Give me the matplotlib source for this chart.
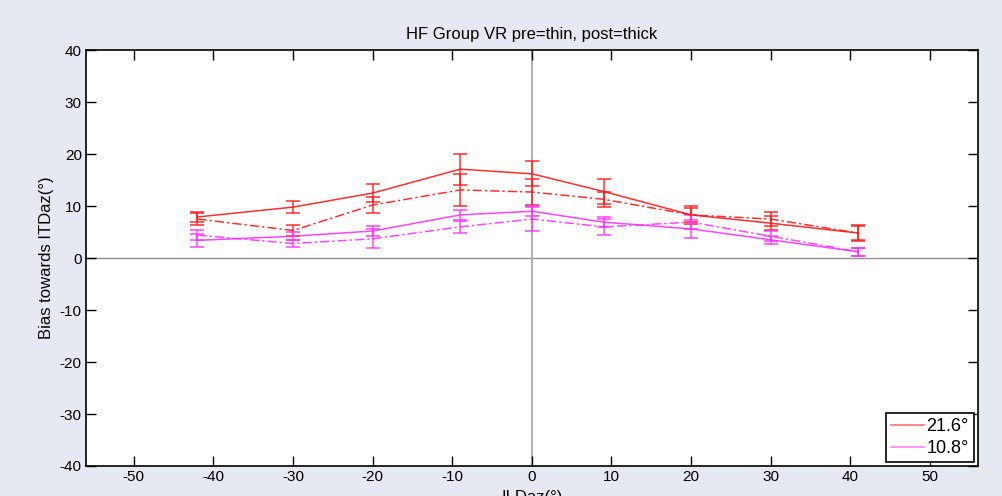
import matplotlib
matplotlib.use('Agg')
import matplotlib.pyplot as plt
from matplotlib.lines import Line2D

plt.rcParams['font.family'] = ['Liberation Sans', 'DejaVu Sans']
plt.rcParams['axes.unicode_minus'] = False

# ILD azimuth positions
ild = [-42, -30, -20, -9, 0, 9, 20, 30, 41]

# 21.6 deg, pre (solid) and post (dash-dot)
red_pre = [7.9, 9.8, 12.5, 17.1, 16.2, 12.8, 8.3, 6.7, 4.8]
red_pre_err = [1.0, 1.2, 1.7, 3.0, 2.4, 2.5, 1.7, 1.3, 1.5]
red_post = [7.5, 5.3, 10.2, 13.1, 12.7, 11.3, 8.3, 7.5, 4.8]
red_post_err = [1.1, 1.0, 1.6, 3.1, 2.5, 1.5, 1.3, 1.3, 1.4]

# 10.8 deg, pre (solid) and post (dash-dot)
mag_pre = [3.4, 4.2, 5.2, 8.3, 9.0, 6.9, 5.6, 3.5, 1.2]
mag_pre_err = [1.2, 0.8, 1.0, 1.0, 1.0, 1.0, 1.8, 0.8, 0.8]
mag_post = [4.4, 2.8, 3.7, 6.0, 7.5, 6.0, 6.9, 4.2, 1.2]
mag_post_err = [1.0, 0.7, 1.8, 1.2, 2.3, 1.6, 1.3, 1.0, 0.8]

legend_labels = ['21.6°', '10.8°']
red = '#ff1a1a'
mag = '#ff33ff'

bg = '#e6e9f2'
fig = plt.figure(figsize=(10.02, 4.96), dpi=100, facecolor=bg)
ax = fig.add_axes([0.0858, 0.0605, 0.890, 0.8385])

ax.axhline(0, color='#909090', lw=1, zorder=1)
ax.axvline(0, color='#b0b0b0', lw=1.5, zorder=1)

def series(y, err, color, ls):
    ax.errorbar(ild, y, yerr=err, color=color, ls=ls, lw=1.1, capsize=5,
                elinewidth=1.1, capthick=1.1, alpha=0.9, zorder=3,
                dashes=(6, 2, 1.5, 2) if ls == '-.' else (None, None))

series(red_pre, red_pre_err, red, '-')
series(red_post, red_post_err, red, '-.')
series(mag_pre, mag_pre_err, mag, '-')
series(mag_post, mag_post_err, mag, '-.')

ax.set_xlim(-56, 56)
ax.set_ylim(-40, 40)
ax.set_xticks(range(-50, 51, 10))
ax.set_yticks(range(-40, 41, 10))
ax.tick_params(direction='in', length=7, width=1, top=True, right=True,
               labelsize=11, colors='black', pad=3)
for s in ax.spines.values():
    s.set_linewidth(1.2)

ax.set_title('HF Group VR pre=thin, post=thick', fontsize=12, pad=8)
ax.set_xlabel('ILDaz(°)', fontsize=12, labelpad=4)
ax.set_ylabel('Bias towards ITDaz(°)', fontsize=12, labelpad=4)

handles = [Line2D([], [], color=red, lw=1.2, alpha=0.6),
           Line2D([], [], color=mag, lw=1.2, alpha=0.6)]
leg = ax.legend(handles, legend_labels, loc='lower right', fontsize=13,
                frameon=True, fancybox=False, edgecolor='black',
                handlelength=1.8, borderaxespad=0.2, handletextpad=0.15,
                borderpad=0.3, labelspacing=0.25)
leg.get_frame().set_linewidth(1.2)
leg.get_frame().set_alpha(1)

fig.savefig('out.png', dpi=100, facecolor=bg)
